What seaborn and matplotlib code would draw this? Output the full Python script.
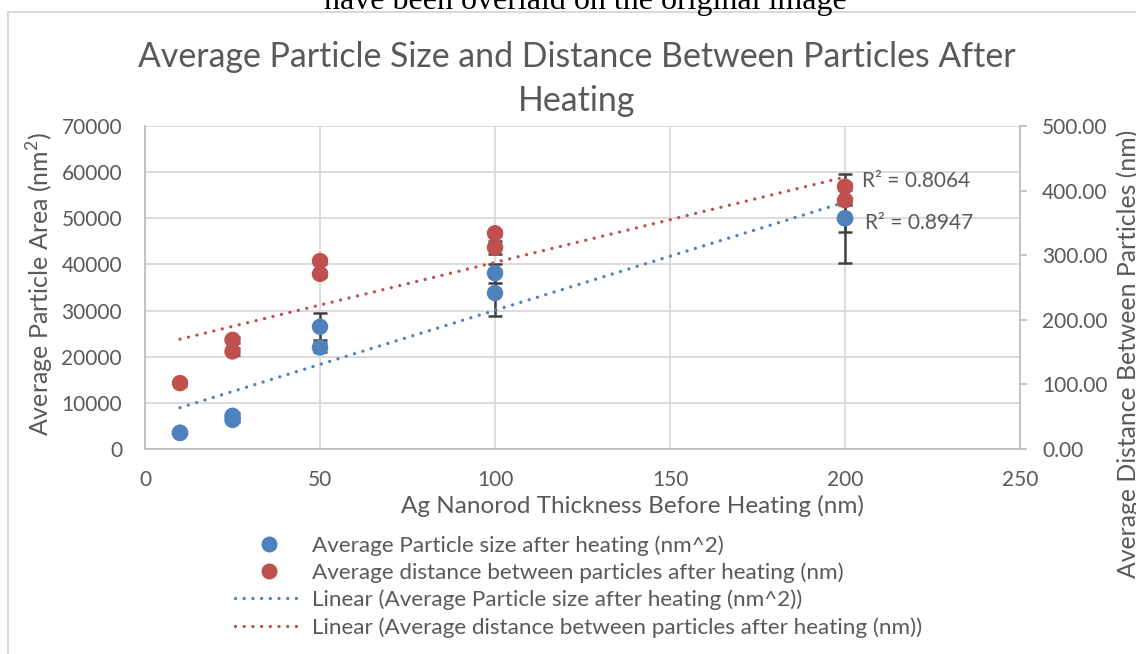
import numpy as np
import pandas as pd
import matplotlib
matplotlib.use("Agg")
import matplotlib.pyplot as plt
from matplotlib.lines import Line2D
from matplotlib.patches import Rectangle
import seaborn as sns

# ---------------- data ----------------
thickness_size = [10, 10, 25, 25, 50, 50, 100, 100, 200, 200]
particle_area = [3500, 3500, 7200, 6300, 26500, 22000, 38100, 33800, 50000, 50000]
particle_area_err = [300, 300, 500, 500, 2900, 1000, 2100, 4900, 2900, 9600]

thickness_dist = [10, 25, 25, 50, 50, 100, 100, 200, 200]
particle_distance = [102, 169, 151, 291, 271, 334, 312, 406, 385]
particle_distance_err = [5, 5, 5, 5, 5, 5, 10, 5, 5]

trend_x = [10, 200]
trend_area = [8950, 53500]
trend_distance = [170, 421]

r2_area = 0.8947
r2_distance = 0.8064

x_ticks = [0, 50, 100, 150, 200, 250]
y_left_ticks = [0, 10000, 20000, 30000, 40000, 50000, 60000, 70000]
y_right_ticks = [0, 100, 200, 300, 400, 500]

title = "Average Particle Size and Distance Between Particles After\nHeating"
x_label = "Ag Nanorod Thickness Before Heating (nm)"
y_left_label = "Average Particle Area (nm$^2$)"
y_right_label = "Average Distance Between Particles (nm)"
legend_labels = [
    "Average Particle size after heating (nm^2)",
    "Average distance between particles after heating (nm)",
    "Linear (Average Particle size after heating (nm^2))",
    "Linear (Average distance between particles after heating (nm))",
]
overlay_text = "have been overlaid on the original image"

# ---------------- style ----------------
sns.set_theme(style="white")
plt.rcParams["font.family"] = ["Lato", "DejaVu Sans"]
plt.rcParams["mathtext.fontset"] = "custom"
plt.rcParams["mathtext.rm"] = "Lato"

BLUE = "#4F81BD"
RED = "#C0504D"
TXT = "#595959"
GRID = "#D9D9D9"
AXC = "#BFBFBF"
ERR = "#404040"

fig = plt.figure(figsize=(11.36, 6.54), dpi=100)
W, H = 1136, 654
L, R, B, T = 145, 1020, 449, 126
ax = fig.add_axes([L / W, 1 - B / H, (R - L) / W, (B - T) / H])
ax2 = ax.twinx()

df_size = pd.DataFrame({"x": thickness_size, "y": particle_area, "e": particle_area_err})
df_dist = pd.DataFrame({"x": thickness_dist, "y": particle_distance, "e": particle_distance_err})
df_trend = pd.DataFrame({"x": trend_x, "a": trend_area, "d": trend_distance})

dot = (0, (0.01, 2.6))

# trendlines
sns.lineplot(data=df_trend, x="x", y="a", ax=ax, color=BLUE, lw=2.4,
             linestyle=dot, dash_capstyle="round", zorder=4)
sns.lineplot(data=df_trend, x="x", y="d", ax=ax2, color=RED, lw=2.4,
             linestyle=dot, dash_capstyle="round", zorder=4)

# error bars
ax.errorbar(df_size["x"], df_size["y"], yerr=df_size["e"], fmt="none",
            ecolor=ERR, elinewidth=1.8, capsize=5, capthick=1.8, zorder=3)
ax2.errorbar(df_dist["x"], df_dist["y"], yerr=df_dist["e"], fmt="none",
             ecolor=ERR, elinewidth=1.8, capsize=5, capthick=1.8, zorder=3)

# points
sns.scatterplot(data=df_size, x="x", y="y", ax=ax, color=BLUE, s=140,
                edgecolor="none", zorder=5)
sns.scatterplot(data=df_dist, x="x", y="y", ax=ax2, color=RED, s=140,
                edgecolor="none", zorder=5)

# axes
ax.set_xlim(0, 250)
ax.set_ylim(0, 70000)
ax2.set_ylim(0, 500)
ax.set_xticks(x_ticks)
ax.set_yticks(y_left_ticks)
ax2.set_yticks(y_right_ticks)
ax2.set_yticklabels([f"{v:.2f}" for v in y_right_ticks])
ax.grid(True, color=GRID, lw=1.3)
ax.set_axisbelow(True)
ax2.grid(False)

for a in (ax, ax2):
    for s in a.spines.values():
        s.set_visible(False)
ax.spines["left"].set_visible(True)
ax.spines["bottom"].set_visible(True)
ax.spines["left"].set_color(AXC)
ax.spines["bottom"].set_color(AXC)
ax.spines["left"].set_linewidth(1.3)
ax.spines["bottom"].set_linewidth(1.3)
ax2.spines["right"].set_visible(True)
ax2.spines["right"].set_color(AXC)
ax2.spines["right"].set_linewidth(1.3)

ax.tick_params(axis="y", length=0, labelsize=15, labelcolor=TXT, pad=16.5)
ax.tick_params(axis="x", length=0, labelsize=15, labelcolor=TXT, pad=15)
ax2.tick_params(axis="y", length=5, width=1.3, color=AXC, direction="out",
                labelsize=15, labelcolor=TXT, pad=11)

ax.set_xlabel("")
ax.set_ylabel("")
ax2.set_ylabel("")
fig.text(632 / W, 1 - 506 / H, x_label, fontsize=17.5, color=TXT,
         ha="center", va="center")
fig.text(40 / W, 1 - 284 / H, y_left_label, rotation=90, fontsize=18,
         color=TXT, ha="center", va="center")
fig.text(1128 / W, 1 - 354 / H, y_right_label, rotation=90, fontsize=17.8,
         color=TXT, ha="center", va="center")

# R squared labels
ax.text(205, 58100, f"R² = {r2_distance:.4f}", fontsize=15, color=TXT, va="center", ha="left")
ax.text(205.7, 49000, f"R² = {r2_area:.4f}", fontsize=15, color=TXT, va="center", ha="left")

# title
fig.text(577 / W, 1 - 79 / H, title, ha="center", va="center", fontsize=24.4,
         color=TXT, linespacing=1.45)

# overlay serif text at the top (cut off in the original screenshot)
fig.text(585 / W, 1 - 9 / H, overlay_text, ha="center", va="baseline",
         fontsize=23, family=["Liberation Serif", "DejaVu Serif"], color="black")

# chart frame
fig.patches.append(Rectangle((8 / W, -0.05), 1.2, 1 - 12 / H + 0.05,
                             transform=fig.transFigure, fill=False,
                             edgecolor=GRID, lw=1.5))

# legend
handles = [
    Line2D([], [], marker="o", ls="none", color=BLUE, markersize=11.5, markeredgewidth=0),
    Line2D([], [], marker="o", ls="none", color=RED, markersize=11.5, markeredgewidth=0),
    Line2D([], [], color=BLUE, lw=2.4, ls=dot, dash_capstyle="round"),
    Line2D([], [], color=RED, lw=2.4, ls=dot, dash_capstyle="round"),
]
leg = fig.legend(handles, legend_labels, loc="upper left",
                 bbox_to_anchor=(235 / W, 1 - 535 / H), frameon=False,
                 fontsize=16.2, handlelength=2.98, handletextpad=0.44,
                 labelspacing=0.30, numpoints=1, borderaxespad=0, borderpad=0)
for t in leg.get_texts():
    t.set_color(TXT)

fig.savefig("out.png", dpi=100)
